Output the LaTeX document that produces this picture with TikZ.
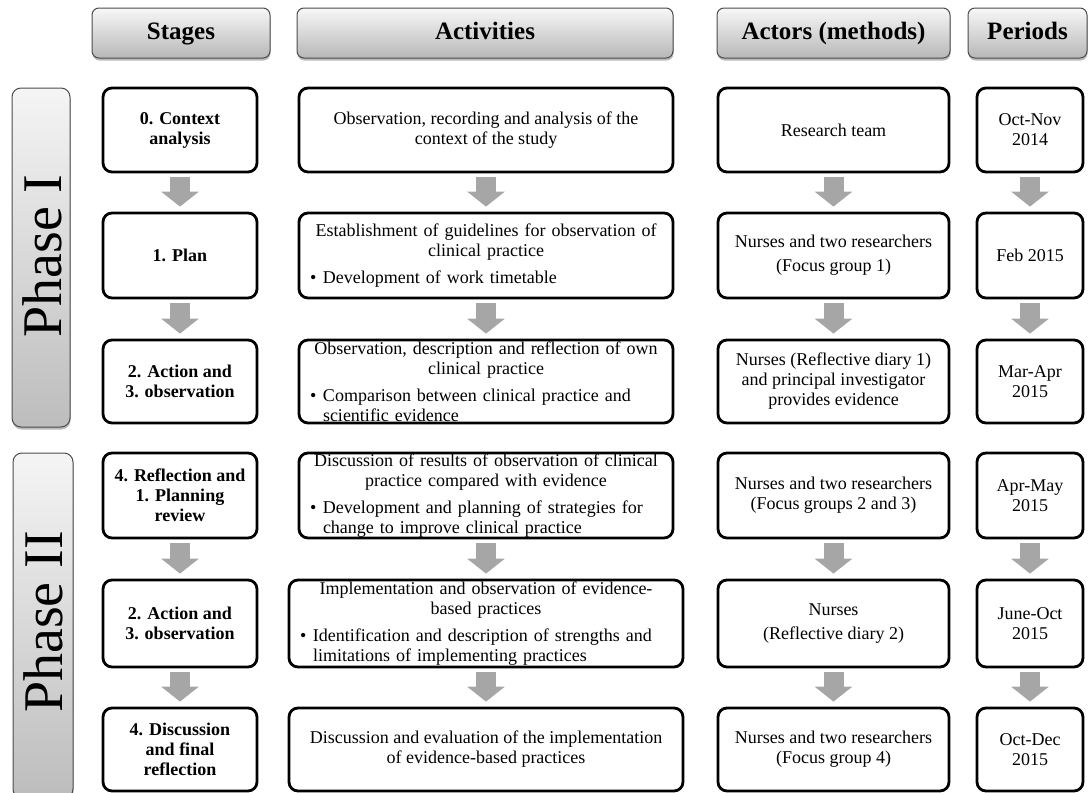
\documentclass[tikz,border=0pt]{standalone}
\usepackage{fontspec}
\setmainfont{Liberation Serif}
\usetikzlibrary{shadows,arrows.meta}
\newcommand{\bul}[2][339pt]{\par\vspace{7pt}\noindent\makebox[13pt][l]{\textbullet}\parbox[t]{#1}{\raggedright #2}}
\newcommand{\ctr}[1]{{\centering #1\par}}
\begin{document}
\begin{tikzpicture}[x=1pt,y=-1pt,
  hdr/.style={draw=black!70, line width=1pt, rounded corners=7pt, top color=black!3, bottom color=black!28,
    drop shadow={shadow xshift=0.5pt, shadow yshift=-2.5pt, opacity=0.45, fill=black!60},
    inner sep=0pt, text height=17pt, text depth=5pt, font=\fontsize{25}{28}\selectfont\bfseries},
  phase/.style={draw=black!70, line width=1pt, rounded corners=9pt, top color=black!4, bottom color=black!26,
    drop shadow={shadow xshift=0.5pt, shadow yshift=-2.5pt, opacity=0.45, fill=black!60}, inner sep=0pt},
  phasetxt/.style={rotate=90, inner sep=0pt, font=\fontsize{56}{60}\selectfont},
  base/.style={draw=black, line width=2.8pt, rounded corners=9pt, fill=white, inner sep=0pt},
  stg/.style={base, align=center, font=\fontsize{18}{20}\selectfont\bfseries},
  plain/.style={base, align=center, font=\fontsize{18}{20}\selectfont},
  act/.style={base, text width=352pt, font=\fontsize{18}{20}\selectfont},
  barrow/.style={draw=black!35, line width=20pt, shorten <=4pt, shorten >=5pt,
    -{Triangle[width=37pt,length=15pt,fill=black!35]}}
]
\useasboundingbox (0,0) rectangle (1088,793);

% headers
\node[hdr, minimum width=178pt, minimum height=50pt] (hS) at (181,33) {Stages};
\node[hdr, minimum width=376pt, minimum height=50pt] (hA) at (485,33) {Activities};
\node[hdr, minimum width=233pt, minimum height=50pt] (hR) at (833.5,33) {Actors (methods)};
\node[hdr, minimum width=119pt, minimum height=50pt] (hP) at (1027.5,33) {Periods};

% phase bars
\node[phase, minimum width=58pt, minimum height=339pt] (p1) at (41,257.5) {};
\node[phasetxt] (p1t) at (42,256) {Phase I};
\node[phase, minimum width=60pt, minimum height=345pt] (p2) at (43,625.5) {};
\node[phasetxt] (p2t) at (43,622) {Phase II};

% stages
\node[stg, minimum width=154pt, minimum height=84pt] (s1) at (180,130) {0. Context\\analysis};
\node[stg, minimum width=154pt, minimum height=85pt] (s2) at (180,255.5) {1. Plan};
\node[stg, minimum width=154pt, minimum height=83pt] (s3) at (180,381.5) {2. Action and\\3. observation};
\node[stg, minimum width=154pt, minimum height=85pt] (s4) at (180,495.5) {4. Reflection and\\1. Planning\\review};
\node[stg, minimum width=154pt, minimum height=87pt] (s5) at (180,623.5) {2. Action and\\3. observation};
\node[stg, minimum width=154pt, minimum height=83pt] (s6) at (180,749.5) {4. Discussion\\and final\\reflection};

% activities
\node[plain, minimum width=374pt, minimum height=84pt] (a1) at (486,130) {Observation, recording and analysis of the\\context of the study};
\node[act, minimum width=374pt, minimum height=85pt] (a2) at (486,255.5)
  {\ctr{Establishment of guidelines for observation of\\clinical practice}\bul{Development of work timetable}};
\node[act, minimum width=374pt, minimum height=83pt] (a3) at (486,381.5)
  {\ctr{Observation, description and reflection of own\\clinical practice}\bul{Comparison between clinical practice and\\scientific evidence}};
\node[act, minimum width=374pt, minimum height=85pt] (a4) at (486,495.5)
  {\ctr{Discussion of results of observation of clinical\\practice compared with evidence}\bul{Development and planning of strategies for\\change to improve clinical practice}};
\node[act, text width=372pt, minimum width=394pt, minimum height=87pt] (a5) at (486,623.5)
  {\ctr{Implementation and observation of evidence-\\based practices}\bul[359pt]{Identification and description of strengths and\\limitations of implementing practices}};
\node[plain, minimum width=394pt, minimum height=83pt] (a6) at (486,749.5) {Discussion and evaluation of the implementation\\of evidence-based practices};

% actors
\node[plain, minimum width=231pt, minimum height=84pt] (r1) at (833.5,130) {Research team};
\node[plain, minimum width=231pt, minimum height=85pt] (r2) at (833.5,255.5) {Nurses and two researchers\\[4pt](Focus group 1)};
\node[plain, minimum width=231pt, minimum height=83pt] (r3) at (833.5,381.5) {Nurses (Reflective diary 1)\\and principal investigator\\provides evidence};
\node[plain, minimum width=231pt, minimum height=85pt] (r4) at (833.5,495.5) {Nurses and two researchers\\(Focus groups 2 and 3)};
\node[plain, minimum width=231pt, minimum height=87pt] (r5) at (833.5,623.5) {Nurses\\[4pt](Reflective diary 2)};
\node[plain, minimum width=231pt, minimum height=83pt] (r6) at (833.5,749.5) {Nurses and two researchers\\(Focus group 4)};

% periods
\node[plain, minimum width=106pt, minimum height=84pt] (q1) at (1030,130) {Oct-Nov\\2014};
\node[plain, minimum width=106pt, minimum height=85pt] (q2) at (1030,255.5) {Feb 2015};
\node[plain, minimum width=106pt, minimum height=83pt] (q3) at (1030,381.5) {Mar-Apr\\2015};
\node[plain, minimum width=106pt, minimum height=85pt] (q4) at (1030,495.5) {Apr-May\\2015};
\node[plain, minimum width=106pt, minimum height=87pt] (q5) at (1030,623.5) {June-Oct\\2015};
\node[plain, minimum width=106pt, minimum height=83pt] (q6) at (1030,749.5) {Oct-Dec\\2015};

% arrows
\foreach \c in {s,a,r,q}{
  \draw[barrow] (\c1) -- (\c2);
  \draw[barrow] (\c2) -- (\c3);
  \draw[barrow] (\c4) -- (\c5);
  \draw[barrow] (\c5) -- (\c6);
}
\end{tikzpicture}
\end{document}
